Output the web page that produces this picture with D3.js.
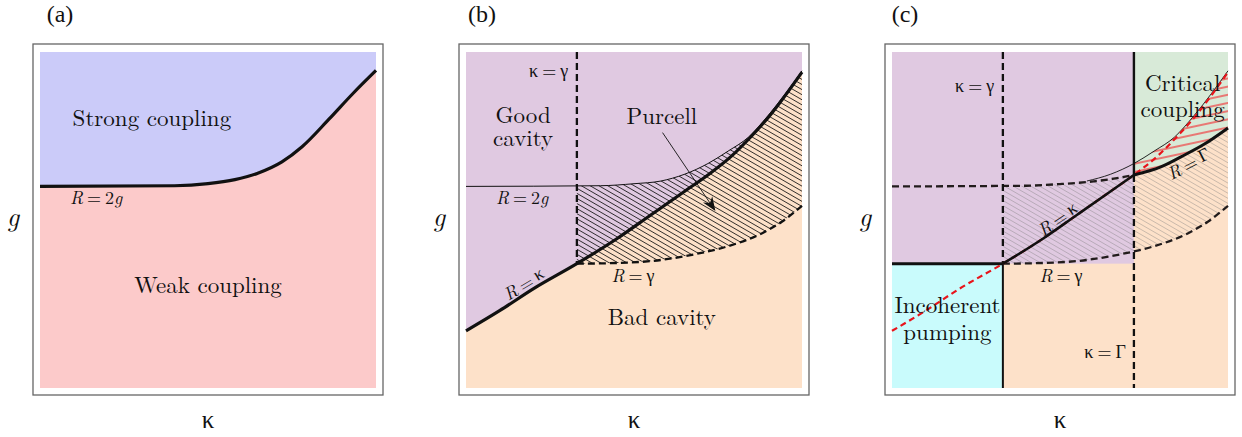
<!DOCTYPE html>
<html>
<head>
<meta charset="utf-8">
<script src="https://cdn.jsdelivr.net/npm/d3@7"></script>
<style>
body { margin: 0; background: #fff; }
</style>
</head>
<body>
<svg id="chart" width="1242" height="437"></svg>
<script>
// schematic units: kappa 0..100 across, g 0..100 up
var panelNames = ["(a)", "(b)", "(c)"];

var strongWeakCurve = [[0,60],[40,60.2],[50,60.8],[58,62],[65,64],[72,67.3],[78,71.8],[86,80],[93,87.5],[100,94.5]];
var r2gCurve        = [[0,60],[40,60.2],[50,60.8],[58,61.6],[65,63.6],[72,66.8],[78,70.5],[84,74.6],[90,81.2],[100,94.4]];
var rKappaCurve     = [[0,17],[10,23],[20,29.5],[33,37],[45,44.5],[55,51.5],[65,58.5],[72,63.4],[79,69],[85,75],[91,81.8],[100,94]];
var rGammaCurve     = [[33,37],[45,37.2],[58,38.1],[68,39.8],[78,42.2],[88,46],[94,49.5],[100,54.2]];
var rBigGammaCurve  = [[72,63.4],[80,65.8],[86,68.8],[93,72.6],[100,77.4]];
var r2gDashedCurve  = [[0,60],[40,60.2],[50,60.7],[60,61.5],[66,62.3],[72,63.4]];
var kappaEqGamma = 33;
var kappaEqBigGamma = 72;
var purcellArrow = [[58.5,76],[74,53]];

var svg = d3.select('#chart');
var defs = svg.append('defs');
var fontStack = '"Latin Modern Roman", "Liberation Serif", serif';
var greekFont = '"Liberation Serif", serif';

var size = 336, top0 = 52;
var lefts = [40, 466, 892];
var titleCenters = [60, 482, 905];

function scales(i) {
    return {
        x: d3.scaleLinear().domain([0,100]).range([lefts[i], lefts[i] + size]),
        y: d3.scaleLinear().domain([0,100]).range([top0 + size, top0])
    };
}

function lineGen(s) {
    return d3.line().x(d => s.x(d[0])).y(d => s.y(d[1])).curve(d3.curveMonotoneX);
}
function areaAbove(s) {
    return d3.area().x(d => s.x(d[0])).y0(s.y(100)).y1(d => s.y(d[1])).curve(d3.curveMonotoneX);
}
function areaBelow(s) {
    return d3.area().x(d => s.x(d[0])).y0(s.y(0)).y1(d => s.y(d[1])).curve(d3.curveMonotoneX);
}

function hatch(id, angle, gap, color, w, op) {
    let p = defs.append('pattern')
        .attr('id', id)
        .attr('patternUnits', 'userSpaceOnUse')
        .attr('width', 20).attr('height', gap)
        .attr('patternTransform', 'rotate(' + angle + ')');
    p.append('line')
        .attr('x1', 0).attr('x2', 20)
        .attr('y1', gap / 2).attr('y2', gap / 2)
        .attr('stroke', color).attr('stroke-width', w).attr('stroke-opacity', op);
}
hatch('hatchB', 30, 4.4, '#111', 0.8, 1);
hatch('hatchC', 30, 4.4, '#777', 0.6, 0.6);
hatch('hatchRed', -12, 8, '#ee5555', 1.8, 0.85);

function clip(id, paths) {
    let c = defs.append('clipPath').attr('id', id);
    paths.forEach(d => c.append('path').attr('d', d));
}

function mathText(sel, str) {
    let parts = [];
    str.split(' ').forEach((tok, ti) => {
        tok.split('').forEach((c, ci) => {
            let greek = /[κγΓ]/.test(c);
            parts.push({ t: c, it: /[A-Za-z]/.test(c), greek: greek, gap: ti > 0 && ci == 0 });
        });
    });
    sel.selectAll('tspan').data(parts).join('tspan')
        .text(d => d.t)
        .style('font-style', d => d.it ? 'italic' : 'normal')
        .style('font-family', d => d.greek ? greekFont : fontStack)
        .attr('dx', d => d.gap ? 4 : null);
    return sel;
}

function txt(g) {
    return g.append('text').style('font-family', fontStack).attr('fill', '#111');
}

function label(g, s, x, y, str, opt) {
    opt = opt || {};
    let t = txt(g)
        .attr('font-size', opt.size || 23)
        .attr('text-anchor', opt.anchor || 'middle');
    if (opt.rot !== undefined) {
        t.attr('transform', 'translate(' + s.x(x) + ',' + s.y(y) + ') rotate(' + opt.rot + ')')
            .attr('dominant-baseline', 'central');
    } else {
        t.attr('x', s.x(x)).attr('y', s.y(y));
    }
    if (opt.math) mathText(t, str);
    else if (opt.lines) {
        t.selectAll('tspan').data(str.split('\n')).join('tspan')
            .attr('x', s.x(x)).attr('dy', (d, k) => k ? opt.lines : 0).text(d => d);
    }
    else t.text(str);
    return t;
}

function seg(g, s, pts, w, dash, color) {
    return g.append('path')
        .attr('d', lineGen(s)(pts))
        .attr('fill', 'none')
        .attr('stroke', color || '#111')
        .attr('stroke-width', w)
        .attr('stroke-dasharray', dash || null);
}

function frame(i, s) {
    let g = svg.append('g');
    g.append('rect')
        .attr('x', s.x(0) - 7).attr('y', s.y(100) - 8)
        .attr('width', size + 14).attr('height', size + 15)
        .attr('fill', 'none').attr('stroke', '#666').attr('stroke-width', 1.3);
    txt(g).attr('x', titleCenters[i]).attr('y', 22)
        .style('font-family', greekFont)
        .attr('font-size', 24).attr('text-anchor', 'middle').text(panelNames[i]);
    txt(g).attr('x', s.x(0) - 27).attr('y', 226)
        .attr('font-size', 27).attr('text-anchor', 'middle').style('font-style', 'italic').text('g');
    txt(g).attr('x', s.x(50)).attr('y', 428)
        .attr('font-size', 25).attr('text-anchor', 'middle')
        .style('font-family', greekFont).text('κ');
    return g;
}

function fillRect(g, s, x0, y0, x1, y1, color) {
    g.append('rect')
        .attr('x', s.x(x0)).attr('y', s.y(y1))
        .attr('width', s.x(x1) - s.x(x0)).attr('height', s.y(y0) - s.y(y1))
        .attr('fill', color);
}

var dash = '7,4';

// ---------- (a)
(function () {
    let s = scales(0);
    let g = svg.append('g');
    fillRect(g, s, 0, 0, 100, 100, '#fccaca');
    g.append('path').attr('d', areaAbove(s)(strongWeakCurve)).attr('fill', '#cbcbf9');
    seg(g, s, strongWeakCurve, 3.2);
    label(g, s, 33.3, 78, 'Strong coupling', { size: 23 });
    label(g, s, 50, 28.3, 'Weak coupling', { size: 23 });
    label(g, s, 16.7, 54.8, 'R = 2g', { size: 18, math: true });
    frame(0, s);
})();

// ---------- (b)
(function () {
    let s = scales(1);
    let g = svg.append('g');
    fillRect(g, s, 0, 0, 100, 100, '#fde1c9');
    g.append('path').attr('d', areaAbove(s)(rKappaCurve)).attr('fill', '#e0c9e1');

    clip('b-below2g', [areaBelow(s)(r2gCurve)]);
    clip('b-aboveGamma', [areaAbove(s)(rGammaCurve)]);
    g.append('g').attr('clip-path', 'url(#b-below2g)')
        .append('g').attr('clip-path', 'url(#b-aboveGamma)')
        .append('rect').attr('x', s.x(0)).attr('y', s.y(100))
        .attr('width', size).attr('height', size).attr('fill', 'url(#hatchB)');

    seg(g, s, r2gCurve, 1);
    seg(g, s, [[kappaEqGamma, 100], [kappaEqGamma, rGammaCurve[0][1]]], 2.3, dash);
    seg(g, s, rGammaCurve, 2.3, dash);
    seg(g, s, rKappaCurve, 3.2);

    defs.append('marker').attr('id', 'arrowHead')
        .attr('viewBox', '0 0 10 10').attr('refX', 9).attr('refY', 5)
        .attr('markerWidth', 14).attr('markerHeight', 14)
        .attr('markerUnits', 'userSpaceOnUse').attr('orient', 'auto')
        .append('path').attr('d', 'M0,1 L10,5 L0,9 L3,5 Z').attr('fill', '#111');
    g.append('line')
        .attr('x1', s.x(purcellArrow[0][0])).attr('y1', s.y(purcellArrow[0][1]))
        .attr('x2', s.x(purcellArrow[1][0])).attr('y2', s.y(purcellArrow[1][1]))
        .attr('stroke', '#111').attr('stroke-width', 0.9)
        .attr('marker-end', 'url(#arrowHead)');

    label(g, s, 30.4, 92.6, 'κ = γ', { size: 18, math: true, anchor: 'end' });
    label(g, s, 17, 78.8, 'Good\ncavity', { size: 23, lines: 23 });
    label(g, s, 58.3, 78.6, 'Purcell', { size: 23 });
    label(g, s, 16.7, 54.8, 'R = 2g', { size: 18, math: true });
    label(g, s, 17, 31.3, 'R = κ', { size: 18, math: true, rot: -31 });
    label(g, s, 49.7, 31.5, 'R = γ', { size: 18, math: true });
    label(g, s, 58.3, 18.8, 'Bad cavity', { size: 23 });
    frame(1, s);
})();

// ---------- (c)
(function () {
    let s = scales(2);
    let g = svg.append('g');
    let yG = rGammaCurve[0][1];
    let yJ = rBigGammaCurve[0][1];
    fillRect(g, s, 0, 0, 100, 100, '#fde1c9');
    fillRect(g, s, 0, yG, kappaEqBigGamma, 100, '#e0c9e1');
    g.append('path')
        .attr('d', areaAbove(s)(rKappaCurve.filter(d => d[0] >= kappaEqGamma && d[0] <= kappaEqBigGamma)))
        .attr('fill', '#e0c9e1');
    fillRect(g, s, 0, 0, kappaEqGamma, yG, '#c9fbfc');
    g.append('path').attr('d', areaAbove(s)(rBigGammaCurve)).attr('fill', '#d8ead8');

    clip('c-belowUpper', [areaBelow(s)(r2gDashedCurve), areaBelow(s)(rBigGammaCurve)]);
    clip('c-aboveGamma', [areaAbove(s)(rGammaCurve)]);
    g.append('g').attr('clip-path', 'url(#c-belowUpper)')
        .append('g').attr('clip-path', 'url(#c-aboveGamma)')
        .append('rect').attr('x', s.x(0)).attr('y', s.y(100))
        .attr('width', size).attr('height', size).attr('fill', 'url(#hatchC)');

    clip('c-below2g', [areaBelow(s)(r2gCurve)]);
    clip('c-aboveBigGamma', [areaAbove(s)(rBigGammaCurve)]);
    g.append('g').attr('clip-path', 'url(#c-below2g)')
        .append('g').attr('clip-path', 'url(#c-aboveBigGamma)')
        .append('rect').attr('x', s.x(0)).attr('y', s.y(100))
        .attr('width', size).attr('height', size).attr('fill', 'url(#hatchRed)');

    seg(g, s, r2gCurve.filter(d => d[0] >= 58), 0.9);
    seg(g, s, r2gDashedCurve, 2.3, dash, '#221c1c');
    seg(g, s, [[kappaEqGamma, 100], [kappaEqGamma, yG]], 2.3, dash);
    seg(g, s, [[kappaEqGamma, yG], [kappaEqGamma, 0]], 2);
    seg(g, s, [[0, yG], [kappaEqGamma, yG]], 3);
    seg(g, s, [[kappaEqBigGamma, 100], [kappaEqBigGamma, yJ]], 2.4);
    seg(g, s, [[kappaEqBigGamma, yJ], [kappaEqBigGamma, 0]], 2.3, dash);
    seg(g, s, rGammaCurve, 2.3, dash, '#221c1c');
    seg(g, s, rKappaCurve, 2.2, '6,4', '#e8141b');
    seg(g, s, rKappaCurve.filter(d => d[0] >= kappaEqGamma && d[0] <= kappaEqBigGamma), 2.6);
    seg(g, s, rBigGammaCurve, 3);

    label(g, s, 30.4, 88.1, 'κ = γ', { size: 18, math: true, anchor: 'end' });
    label(g, s, 86.5, 88.4, 'Critical\ncoupling', { size: 23, lines: 26 });
    label(g, s, 49.1, 50.6, 'R = κ', { size: 18, math: true, rot: -34 });
    label(g, s, 88.1, 67, 'R = Γ', { size: 18, math: true, rot: -27 });
    label(g, s, 50.3, 31.5, 'R = γ', { size: 18, math: true });
    label(g, s, 16.5, 22.3, 'Incoherent\npumping', { size: 23, lines: 27 });
    label(g, s, 69.6, 8.9, 'κ = Γ', { size: 18, math: true, anchor: 'end' });
    frame(2, s);
})();
</script>
</body>
</html>
